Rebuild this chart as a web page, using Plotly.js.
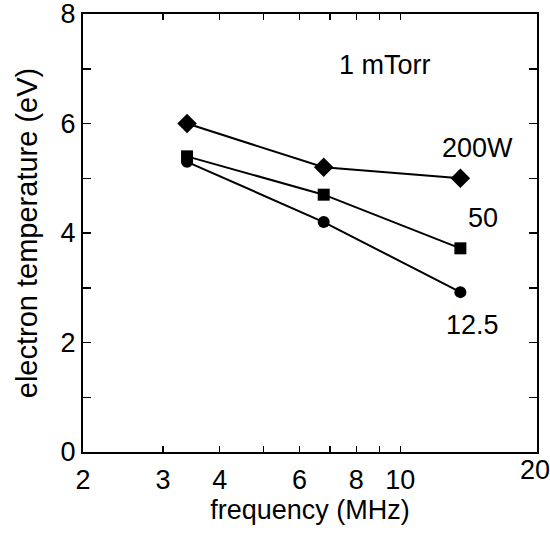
<!DOCTYPE html>
<html>
<head>
<meta charset="utf-8">
<script src="https://cdn.plot.ly/plotly-3.0.1.min.js"></script>
<style>html,body{margin:0;padding:0;background:#fff;}#chart{width:550px;height:534px;}</style>
</head>
<body>
<div id="chart"></div>
<script>
// Data (frequency in MHz, electron temperature in eV)
var frequency = [3.39, 6.78, 13.56];
var te200W = [6.0, 5.2, 5.0];
var te50W = [5.4, 4.7, 3.72];
var te12W = [5.3, 4.2, 2.92];
var seriesLabels = ['200W', '50', '12.5'];
var xTickVals = [2, 3, 4, 6, 8, 10];
var xTickText = ['2', '3', '4', '6', '8', '10'];
var xMinorVals = [5, 7, 9];
var yTickVals = [0, 2, 4, 6, 8];
var yMinorVals = [1, 3, 5, 7];

var FONT = 'Liberation Sans, Arial, Helvetica, sans-serif';
var FS = 27;
var lineStyle = {color: '#000', width: 2};

var traces = [
  {x: frequency, y: te200W, mode: 'lines+markers', name: seriesLabels[0],
   line: lineStyle, marker: {symbol: 'diamond', size: 15, color: '#000'}},
  {x: frequency, y: te50W, mode: 'lines+markers', name: seriesLabels[1],
   line: lineStyle, marker: {symbol: 'square', size: 12, color: '#000'}},
  {x: frequency, y: te12W, mode: 'lines+markers', name: seriesLabels[2],
   line: lineStyle, marker: {symbol: 'circle', size: 12, color: '#000'}}
];

function label(text, x, y) {
  return {text: text, xref: 'paper', yref: 'paper', x: x, y: y,
          xanchor: 'center', yanchor: 'middle', showarrow: false, font: {size: FS}};
}

var layout = {
  width: 550, height: 534,
  margin: {l: 83, r: 13, t: 14, b: 82},
  paper_bgcolor: '#fff', plot_bgcolor: '#fff',
  showlegend: false,
  font: {family: FONT, size: FS, color: '#000'},
  xaxis: {
    type: 'log', range: [Math.log10(2), Math.log10(20)],
    tickmode: 'array', tickvals: xTickVals, ticktext: xTickText,
    ticks: 'inside', ticklen: 6, tickwidth: 1.5, tickcolor: '#000',
    minor: {tickmode: 'array', tickvals: xMinorVals, ticks: 'inside', ticklen: 6, tickwidth: 1.5, tickcolor: '#000'},
    showline: true, linecolor: '#000', linewidth: 2, mirror: 'allticks',
    showgrid: false, zeroline: false,
    tickfont: {size: FS}, ticklabelstandoff: 3, ticklabeloverflow: 'allow', automargin: false,
    title: {text: 'frequency (MHz)', font: {size: FS}, standoff: 0}
  },
  yaxis: {
    range: [0, 8],
    tickmode: 'array', tickvals: yTickVals,
    ticks: 'inside', ticklen: 8, tickwidth: 1.5, tickcolor: '#000',
    minor: {tickmode: 'array', tickvals: yMinorVals, ticks: 'inside', ticklen: 8, tickwidth: 1.5, tickcolor: '#000'},
    showline: true, linecolor: '#000', linewidth: 2, mirror: 'allticks',
    showgrid: false, zeroline: false,
    tickfont: {size: FS}, ticklabeloverflow: 'allow', automargin: false,
    title: {text: 'electron temperature (eV)', font: {size: 29}, standoff: 14}
  },
  annotations: [
    label('1 mTorr', 0.665, 0.884),
    label(seriesLabels[0], 0.870, 0.694),
    label(seriesLabels[1], 0.881, 0.534),
    label(seriesLabels[2], 0.859, 0.290),
    label('20', 0.996, -0.041)
  ]
};

Plotly.newPlot('chart', traces, layout, {displayModeBar: false, staticPlot: true});
</script>
</body>
</html>
